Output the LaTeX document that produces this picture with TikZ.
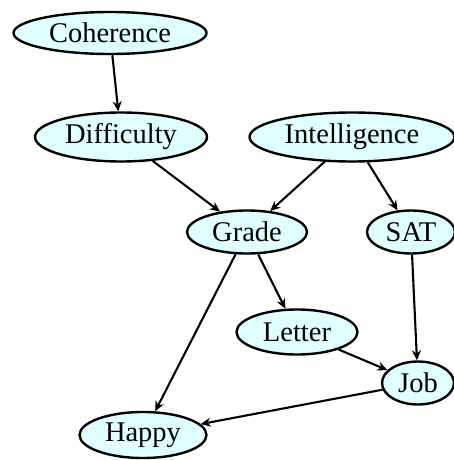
\documentclass[tikz,border=0pt]{standalone}
\usepackage{fontspec}
\setmainfont{Liberation Serif}
\usetikzlibrary{shapes.geometric,arrows.meta}
\definecolor{nodefill}{HTML}{E0FFFF}
\tikzset{
  var/.style={ellipse, draw=black, fill=nodefill, line width=2.4pt, inner sep=0pt,
    font=\fontsize{28.5}{30}\selectfont},
  edge/.style={line width=2.1pt, -{Stealth[length=10pt,width=9pt]}}
}
\begin{document}
\begin{tikzpicture}[x=1pt,y=-1pt]
\useasboundingbox[fill=white] (0,0) rectangle (454,460);
\node[var, minimum width=193pt, minimum height=42pt] (coh) at (110,33) {Coherence};
\node[var, minimum width=172pt, minimum height=49pt] (dif) at (121,137) {Difficulty};
\node[var, minimum width=205pt, minimum height=49pt] (int) at (352,137) {Intelligence};
\node[var, minimum width=120pt, minimum height=43pt] (gra) at (247,232) {Grade};
\node[var, minimum width=88pt, minimum height=43pt] (sat) at (411,232) {SAT};
\node[var, minimum width=121pt, minimum height=45pt] (let) at (297,332) {Letter};
\node[var, minimum width=72pt, minimum height=43pt] (job) at (418,383) {Job};
\node[var, minimum width=127pt, minimum height=46pt] (hap) at (143,435) {Happy};
\draw[edge] (coh) -- (dif);
\draw[edge] (dif) -- (gra);
\draw[edge] (int) -- (gra);
\draw[edge] (int) -- (sat);
\draw[edge] (gra) -- (let);
\draw[edge] (gra) -- (hap);
\draw[edge] (sat) -- (job);
\draw[edge] (let) -- (job);
\draw[edge] (job) -- (hap);
\end{tikzpicture}
\end{document}
